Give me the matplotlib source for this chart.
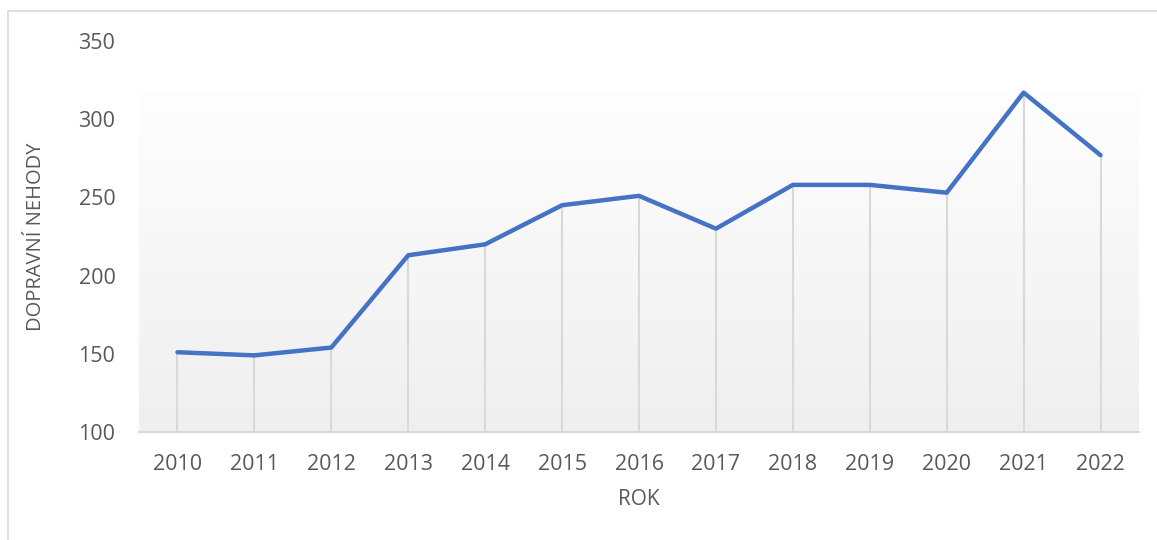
import numpy as np
import matplotlib
matplotlib.use('Agg')
import matplotlib.pyplot as plt
from matplotlib.patches import Rectangle

plt.rcParams['font.family'] = ['Open Sans', 'DejaVu Sans']

years = ['2010', '2011', '2012', '2013', '2014', '2015', '2016',
         '2017', '2018', '2019', '2020', '2021', '2022']
accidents = [151, 149, 154, 213, 220, 245, 251, 230, 258, 258, 253, 317, 277]

text_col = '#595959'
line_col = '#4472C4'
grid_col = '#d9d9d9'

fig = plt.figure(figsize=(11.57, 5.40), dpi=100)
ax = fig.add_axes([139/1157, 1 - 432/540, 1000/1157, (432 - 41)/540])

x = np.arange(len(years))

# gradient background (white at top -> light grey at bottom)
grad = np.linspace(0, 1, 256).reshape(-1, 1)
cmap = matplotlib.colors.LinearSegmentedColormap.from_list('g', ['#fefefe', '#efefef'])
ax.imshow(grad, aspect='auto', cmap=cmap, extent=(-0.5, len(years) - 0.5, 100, max(accidents)),
          origin='upper', zorder=0)

ax.vlines(x, 100, accidents, color=grid_col, lw=1.5, zorder=1)
ax.plot(x, accidents, color=line_col, lw=3.2, solid_joinstyle='round',
        solid_capstyle='round', zorder=3)

ax.set_xlim(-0.5, len(years) - 0.5)
ax.set_ylim(100, 350)
ax.set_yticks([100, 150, 200, 250, 300, 350])
ax.set_xticks(x)
ax.set_xticklabels(years)

for s in ['top', 'right', 'left']:
    ax.spines[s].set_visible(False)
ax.spines['bottom'].set_color(grid_col)
ax.spines['bottom'].set_linewidth(1.5)
ax.tick_params(length=0, labelsize=15.5, colors=text_col)
ax.tick_params(axis='x', pad=16)
ax.tick_params(axis='y', pad=17)
ax.set_facecolor('none')

ax.set_xlabel('ROK', fontsize=15, color=text_col, labelpad=10)
ax.set_ylabel('DOPRAVNÍ NEHODY', fontsize=14.5, color=text_col, labelpad=23)

# chart border
fig.patches.append(Rectangle((8/1157, -0.1), 1.2, 1 - 11/540 + 0.1, transform=fig.transFigure,
                             fill=False, edgecolor='#d9d9d9', lw=1.2))

fig.savefig('out.png', dpi=100, facecolor='white')
